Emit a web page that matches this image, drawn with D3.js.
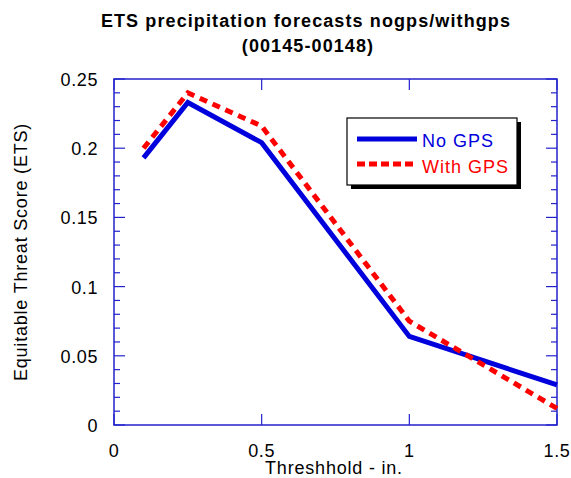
<!DOCTYPE html>
<html lang="en">
<head>
<meta charset="utf-8">
<style>
  html, body { margin: 0; padding: 0; background: #fff; }
  text { font-family: "Liberation Sans", Arial, Helvetica, sans-serif; }
</style>
</head>
<body>
<svg id="chart" width="571" height="478"></svg>
<script src="https://cdn.jsdelivr.net/npm/d3@7"></script>
<script>
  // thresholds (in.) and ETS values
  const thresholds = [0.1, 0.25, 0.5, 1.0, 1.5]
  const noGps = [0.193, 0.233, 0.204, 0.064, 0.029]
  const withGps = [0.2, 0.24, 0.216, 0.075, 0.012]
  const xTicks = [0, 0.5, 1, 1.5]
  const yTicks = [0, 0.05, 0.1, 0.15, 0.2, 0.25]
  const seriesNames = ["No GPS", "With GPS"]

  const W = 571, H = 478
  const m = { left: 114, right: 14, top: 79, bottom: 53 }
  const axisBlue = "#2222cc"

  const svg = d3.select("#chart")

  const x = d3.scaleLinear().domain([0, 1.5]).range([m.left, W - m.right])
  const y = d3.scaleLinear().domain([0, 0.25]).range([H - m.bottom, m.top])

  // title
  svg.append("text")
    .attr("x", 306).attr("y", 27)
    .attr("text-anchor", "middle")
    .style("font-size", "18px").style("font-weight", "bold")
    .style("letter-spacing", "1.1px")
    .text("ETS precipitation forecasts nogps/withgps")
  svg.append("text")
    .attr("x", 308).attr("y", 52)
    .attr("text-anchor", "middle")
    .style("font-size", "18px").style("font-weight", "bold")
    .style("letter-spacing", "1.1px")
    .text("(00145-00148)")

  // minor ticks on y (every 0.01), inward on both sides
  const minor = d3.range(0, 0.2501, 0.01)
  const g = svg.append("g")
  minor.forEach(v => {
    const major = yTicks.some(t => Math.abs(t - v) < 1e-6)
    const len = major ? 11 : 6
    g.append("line").attr("x1", x(0)).attr("x2", x(0) + len)
      .attr("y1", y(v)).attr("y2", y(v))
      .attr("stroke", axisBlue).attr("stroke-width", 1.2)
    g.append("line").attr("x1", x(1.5)).attr("x2", x(1.5) - len)
      .attr("y1", y(v)).attr("y2", y(v))
      .attr("stroke", axisBlue).attr("stroke-width", 1.2)
  })
  xTicks.forEach(v => {
    g.append("line").attr("x1", x(v)).attr("x2", x(v))
      .attr("y1", y(0)).attr("y2", y(0) - 11)
      .attr("stroke", axisBlue).attr("stroke-width", 1.2)
    g.append("line").attr("x1", x(v)).attr("x2", x(v))
      .attr("y1", y(0.25)).attr("y2", y(0.25) + 11)
      .attr("stroke", axisBlue).attr("stroke-width", 1.2)
  })

  // frame
  svg.append("rect")
    .attr("x", x(0)).attr("y", y(0.25))
    .attr("width", x(1.5) - x(0)).attr("height", y(0) - y(0.25))
    .attr("fill", "none").attr("stroke", axisBlue).attr("stroke-width", 1.5)

  // tick labels
  svg.append("g").selectAll("text").data(yTicks).join("text")
    .attr("x", x(0) - 16).attr("y", d => y(d) + 7)
    .attr("text-anchor", "end")
    .style("font-size", "18px").style("letter-spacing", "0.6px")
    .text(d => d3.format("")(d))
  svg.append("g").selectAll("text").data(xTicks).join("text")
    .attr("x", d => x(d)).attr("y", y(0) + 32)
    .attr("text-anchor", "middle")
    .style("font-size", "18px").style("letter-spacing", "0.6px")
    .text(d => d3.format("")(d))

  // axis titles
  svg.append("text")
    .attr("x", 334).attr("y", 474)
    .attr("text-anchor", "middle")
    .style("font-size", "18px").style("letter-spacing", "0.8px")
    .text("Threshhold - in.")
  svg.append("text")
    .attr("transform", `translate(27, ${(y(0) + y(0.25)) / 2}) rotate(-90)`)
    .attr("text-anchor", "middle")
    .style("font-size", "18px").style("letter-spacing", "0.8px")
    .text("Equitable Threat Score (ETS)")

  // lines
  const line = d3.line().x(d => x(d[0])).y(d => y(d[1]))
  svg.append("path")
    .datum(d3.zip(thresholds, noGps))
    .attr("d", line)
    .attr("fill", "none").attr("stroke", "#0000dd").attr("stroke-width", 5)
  svg.append("path")
    .datum(d3.zip(thresholds, withGps))
    .attr("d", line)
    .attr("fill", "none").attr("stroke", "#ff0000").attr("stroke-width", 5)
    .attr("stroke-dasharray", "8,6")

  // legend
  const lg = svg.append("g").attr("transform", "translate(347,118)")
  lg.append("rect").attr("x", 4).attr("y", 4).attr("width", 170).attr("height", 67).attr("fill", "#000")
  lg.append("rect").attr("width", 170).attr("height", 67)
    .attr("fill", "#fff").attr("stroke", "#000").attr("stroke-width", 1.2)
  const colors = ["#0000dd", "#ff0000"]
  seriesNames.forEach((n, i) => {
    lg.append("line").attr("x1", 10).attr("x2", 70)
      .attr("y1", 21 + i * 25).attr("y2", 21 + i * 25)
      .attr("stroke", colors[i]).attr("stroke-width", 5)
      .attr("stroke-dasharray", i ? "8,4" : null)
    lg.append("text").attr("x", 75).attr("y", 29 + i * 26)
      .attr("fill", colors[i])
      .style("font-size", "18px").style("letter-spacing", "1px")
      .text(n)
  })
</script>
</body>
</html>
